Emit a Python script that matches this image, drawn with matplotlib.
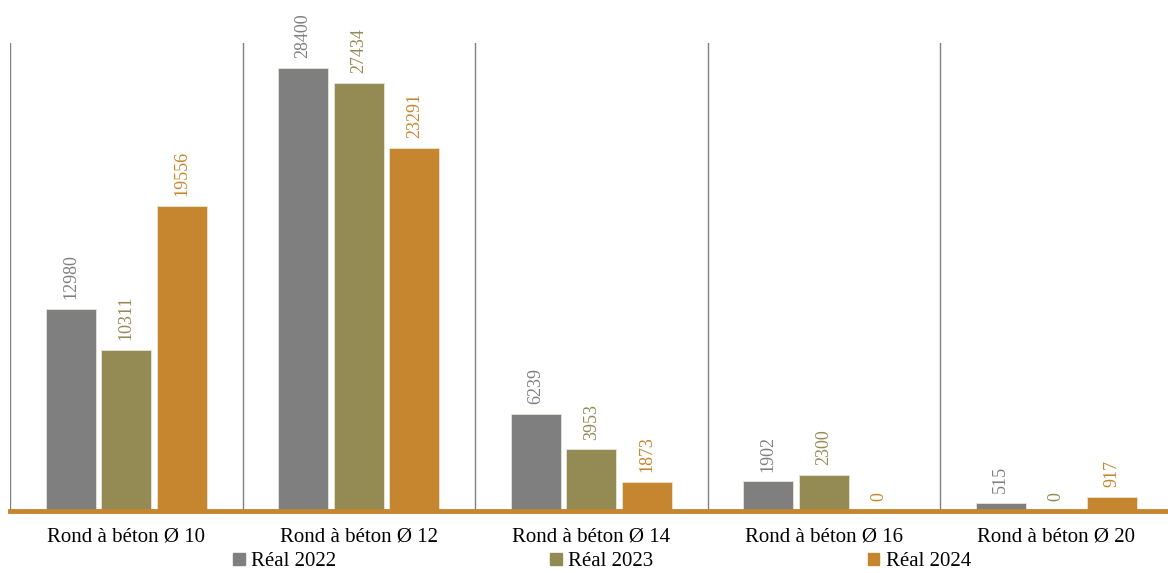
import numpy as np
import matplotlib.pyplot as plt
from matplotlib.patches import Patch

# Data
categories = ['Rond à béton Ø 10', 'Rond à béton Ø 12', 'Rond à béton Ø 14',
              'Rond à béton Ø 16', 'Rond à béton Ø 20']
series_names = ['Réal 2022', 'Réal 2023', 'Réal 2024']
real_2022 = [12980, 28400, 6239, 1902, 515]
real_2023 = [10311, 27434, 3953, 2300, 0]
real_2024 = [19556, 23291, 1873, 0, 917]
colors = ['#7f7f7f', '#948a54', '#c5862f']

plt.rcParams['font.family'] = ['Liberation Serif', 'DejaVu Serif']

fig = plt.figure(figsize=(11.68, 5.73), dpi=100)
ax = fig.add_axes([10 / 1168, 62 / 573, 1162.5 / 1168, 468 / 573])

x = np.arange(len(categories))
width = 0.215
gap = 0.024
values = [real_2022, real_2023, real_2024]

for i, (vals, col) in enumerate(zip(values, colors)):
    pos = x + (i - 1) * (width + gap)
    ax.bar(pos, vals, width, color=col, edgecolor='#e8e4d8', linewidth=0.6, zorder=3)
    for p, v in zip(pos, vals):
        ax.annotate(str(v), (p, v), xytext=(0, 7), textcoords='offset points',
                    rotation=90, ha='center', va='bottom', color=col, fontsize=13)

# category separators
for b in np.arange(len(categories) + 1) - 0.5:
    ax.axvline(b, color='#808080', linewidth=1, zorder=1)

ax.set_xlim(-0.5, len(categories) - 0.5)
ax.set_ylim(0, 30000)
ax.axhline(0, color='#c5862f', linewidth=3.5, zorder=4, clip_on=False)

for s in ax.spines.values():
    s.set_visible(False)
ax.set_yticks([])
ax.set_xticks(x)
ax.set_xticklabels(categories, fontsize=15)
ax.tick_params(axis='x', length=0, pad=12)

handles = [Patch(color=c, label=n) for c, n in zip(colors, series_names)]
fig.legend(handles=handles, loc='center', bbox_to_anchor=(602 / 1168, 1 - 562 / 573),
           ncol=3, frameon=False, fontsize=15, handlelength=0.55, handleheight=0.55,
           handletextpad=0.3, columnspacing=10.3, borderpad=0.2)

fig.savefig('out.png', dpi=100)
